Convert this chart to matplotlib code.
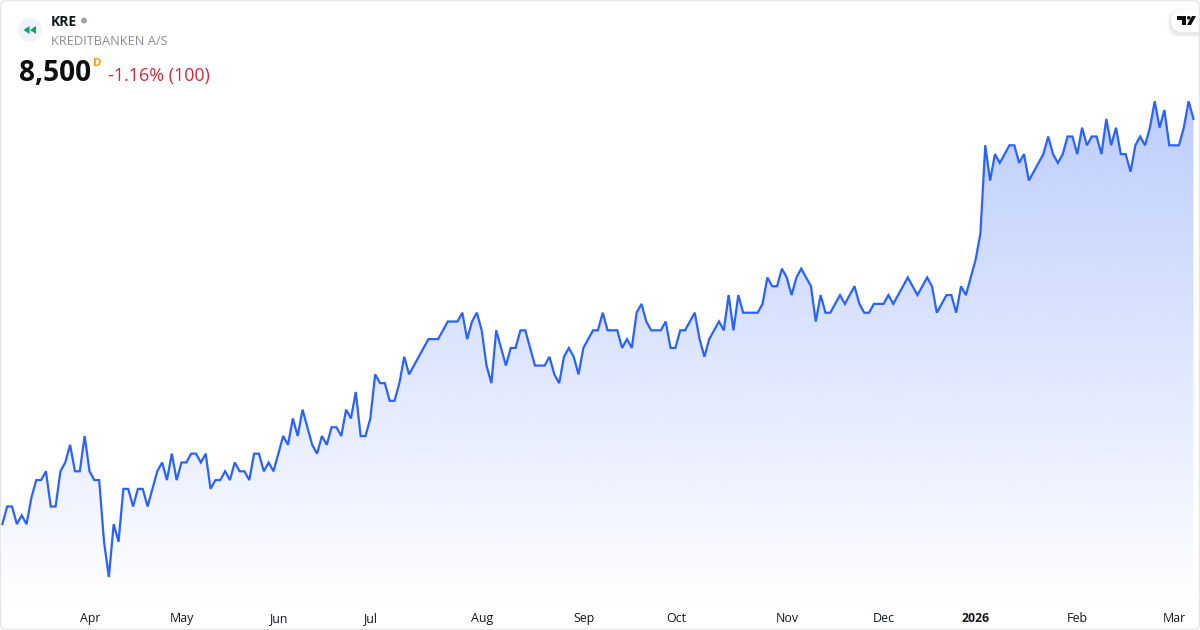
import numpy as np
import matplotlib
matplotlib.use("Agg")
import matplotlib.pyplot as plt
from matplotlib.patches import Circle, FancyBboxPatch, Polygon
from matplotlib.transforms import Affine2D

symbol = "KRE"
company = "KREDITBANKEN A/S"
last_price = "8,500"
interval = "D"
change_text = "-1.16% (100)"

prices = [
    6200, 6300, 6300, 6200, 6250, 6200, 6350, 6450, 6450, 6500, 6300, 6300, 6500, 6550, 6650, 6500,
    6500, 6700, 6500, 6450, 6450, 6100, 5900, 6200, 6100, 6400, 6400, 6300, 6400, 6400, 6300, 6400,
    6500, 6550, 6450, 6600, 6450, 6550, 6550, 6600, 6600, 6550, 6600, 6400, 6450, 6450, 6500, 6450,
    6550, 6500, 6500, 6450, 6600, 6600, 6500, 6550, 6500, 6600, 6700, 6650, 6800, 6700, 6850, 6750,
    6650, 6600, 6700, 6650, 6750, 6750, 6700, 6850, 6800, 6950, 6700, 6700, 6800, 7050, 7000, 7000,
    6900, 6900, 7000, 7150, 7050, 7100, 7150, 7200, 7250, 7250, 7250, 7300, 7350, 7350, 7350, 7400,
    7250, 7350, 7400, 7300, 7100, 7000, 7300, 7200, 7100, 7200, 7200, 7300, 7300, 7200, 7100, 7100,
    7100, 7150, 7050, 7000, 7150, 7200, 7150, 7050, 7200, 7250, 7300, 7300, 7400, 7300, 7300, 7300,
    7200, 7250, 7200, 7400, 7450, 7350, 7300, 7300, 7300, 7350, 7200, 7200, 7300, 7300, 7350, 7400,
    7250, 7150, 7250, 7300, 7350, 7300, 7500, 7300, 7500, 7400, 7400, 7400, 7400, 7450, 7600, 7550,
    7550, 7650, 7600, 7500, 7600, 7650, 7600, 7550, 7350, 7500, 7400, 7400, 7450, 7500, 7450, 7500,
    7550, 7450, 7400, 7400, 7450, 7450, 7450, 7500, 7450, 7500, 7550, 7600, 7550, 7500, 7550, 7600,
    7550, 7400, 7450, 7500, 7500, 7400, 7550, 7500, 7600, 7700, 7850, 8350, 8150, 8300, 8250, 8300,
    8350, 8350, 8250, 8300, 8150, 8200, 8250, 8300, 8400, 8300, 8250, 8300, 8400, 8400, 8300, 8450,
    8350, 8400, 8400, 8300, 8500, 8350, 8450, 8300, 8300, 8200, 8350, 8400, 8350, 8450, 8600, 8450,
    8550, 8350, 8350, 8350, 8450, 8600, 8500,
]
tick_sessions = [18.1, 37.1, 57, 76, 99.1, 120.2, 139.2, 162.1, 182, 201, 222, 242]
tick_labels = ["Apr", "May", "Jun", "Jul", "Aug", "Sep", "Oct", "Nov", "Dec", "2026", "Feb", "Mar"]

W, H = 1200, 630
fig = plt.figure(figsize=(12, 6.3), dpi=100, facecolor="white")
ax = fig.add_axes([0, 0, 1, 1])
px = 4.842
x0 = 2.33
per = 8.81 / 50
y_base = 577.0
xlim = (-x0 / px, (W - x0) / px)
ylim = (5900 - (H - y_base) / per, 5900 + y_base / per)
ax.axis("off")

xs = np.arange(len(prices))
ys = np.array(prices, dtype=float)

# gradient under the line
top = np.array([190, 206, 253]) / 255
y_top, y_bot = 8600.0, 5900 - 30 / per
grad = np.linspace(0, 1, 256)[:, None]
img = np.zeros((256, 1, 4))
img[..., :3] = top
img[..., 3] = 1 - grad
extent = (xs[0], xs[-1], y_bot, y_top)
im = ax.imshow(img, aspect="auto", extent=extent, origin="upper", interpolation="bilinear", zorder=1)
poly = Polygon(np.column_stack([np.r_[xs, xs[-1], xs[0]], np.r_[ys, y_bot, y_bot]]),
               closed=True, transform=ax.transData, facecolor="none", edgecolor="none")
ax.add_patch(poly)
im.set_clip_path(poly)
ax.set_xlim(*xlim)
ax.set_ylim(*ylim)

ax.plot(xs, ys, color="#2962ff", lw=1.6, solid_joinstyle="miter", zorder=3)

FONT = "Open Sans"
to_fig = Affine2D().scale(1, -1).translate(0, H)  # pixel coordinates, y down

for s, lab in zip(tick_sessions, tick_labels):
    ax.text(s, 5900 - (622 - y_base) / per, lab, ha="center", va="baseline", family=FONT,
            fontsize=8.9, color="#131722", fontweight="bold" if lab == "2026" else "normal", zorder=5)

def T(x, y, s, **kw):
    fig.text(x / W, 1 - y / H, s, family=FONT, **kw)

T(51, 26, symbol, fontsize=10, fontweight="bold", color="#131722", ha="left", va="baseline")
fig.patches.append(Circle((84, 20.5), 3, transform=to_fig, facecolor="#a0a3ab", edgecolor="none"))
T(51, 45, company, fontsize=9.2, color="#8a8e97", ha="left", va="baseline")
T(19, 81, last_price, fontsize=20.2, fontweight="bold", color="#0f0f0f", ha="left", va="baseline")
T(93, 66, interval, fontsize=8.2, fontweight="bold", color="#ff9800", ha="left", va="baseline")
T(108, 81, change_text, fontsize=12.9, color="#d62839", ha="left", va="baseline")

fig.patches.append(Circle((30, 30), 12, transform=to_fig, facecolor="#eff3fa", edgecolor="none"))
for dx in (0, 6.5):
    fig.patches.append(Polygon([(23.5 + dx, 30), (29.5 + dx, 26), (29.5 + dx, 34)], transform=to_fig,
                               facecolor="#06a468", edgecolor="none"))

# logo badge with a soft shadow
for grow, alpha in ((4.0, 0.03), (3.0, 0.04), (2.0, 0.05), (1.0, 0.06)):
    fig.patches.append(FancyBboxPatch((1171 - grow, 10 - grow + 2), 60 + 2 * grow, 22 + 2 * grow,
                                      boxstyle="round,pad=0,rounding_size=%g" % (11 + grow),
                                      transform=to_fig, facecolor="#808080", edgecolor="none", alpha=alpha, zorder=6))
fig.patches.append(FancyBboxPatch((1171, 10), 60, 22, boxstyle="round,pad=0,rounding_size=11",
                                  transform=to_fig, facecolor="white", edgecolor="none", zorder=7))
logo = [
    [(1177, 16), (1186, 16), (1186, 25), (1181.5, 25), (1181.5, 20), (1177, 20)],
    [(1192, 16), (1196, 16), (1191, 25), (1187, 25)],
]
for pts in logo:
    fig.patches.append(Polygon(pts, transform=to_fig, facecolor="#0f0f0f", edgecolor="none", zorder=8))
fig.patches.append(Circle((1188.8, 17.8), 1.8, transform=to_fig, facecolor="#0f0f0f", edgecolor="none", zorder=8))

# card border
fig.patches.append(FancyBboxPatch((0.5, 0.5), 1199, 629, boxstyle="round,pad=0,rounding_size=6",
                                  transform=to_fig, facecolor="none", edgecolor="#e6e6e6", lw=1.0, zorder=9))

fig.savefig("out.png", dpi=100)
